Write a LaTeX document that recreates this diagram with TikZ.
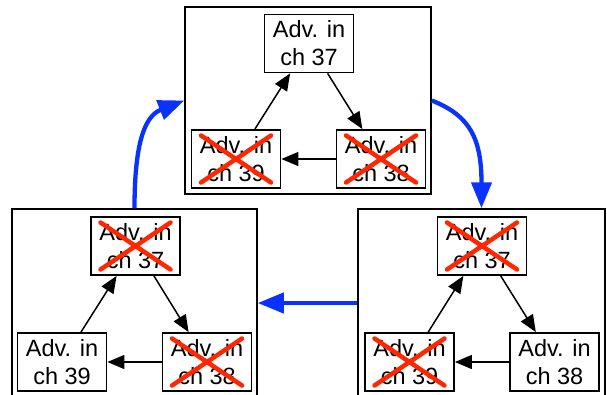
\documentclass[tikz,border=0pt]{standalone}
\usepackage{fontspec}
\setmainfont{Liberation Sans}
\usetikzlibrary{arrows.meta}
\definecolor{xred}{RGB}{255,38,0}
\definecolor{xblue}{RGB}{10,50,255}
\tikzset{
  panel/.style={draw=black,line width=1.5pt,minimum width=#1,inner sep=0pt},
  adv/.style={draw=black,line width=1.8pt,fill=white,minimum width=89pt,minimum height=58pt,
    inner sep=0pt,align=center,font=\fontsize{23.5}{28}\selectfont},
  link/.style={line width=1.5pt,-{Triangle[length=17pt,width=14pt]}},
  move/.style={xblue,line width=4.3pt,-{Triangle[length=26pt,width=20pt]}},
  strike/.style={xred,line width=4.5pt,line cap=round}
}
\newcommand{\crossout}[1]{%
  \draw[strike] ([shift={(-35pt,23.5pt)}]#1.center) -- ([shift={(35pt,-23.5pt)}]#1.center);
  \draw[strike] ([shift={(-35pt,-23.5pt)}]#1.center) -- ([shift={(35pt,23.5pt)}]#1.center);}
\begin{document}
\begin{tikzpicture}[x=1pt,y=1pt]
\useasboundingbox (0,0) rectangle (607,-394);

% three panels
\node[panel=246pt,minimum height=187pt] (P1) at (308,-100.5) {};
\node[panel=245pt,minimum height=188pt] (P2) at (134.5,-303) {};
\node[panel=247pt,minimum height=188pt] (P3) at (481.5,-303) {};

% top panel
\node[adv] (T37) at (309,-43.5) {Adv. in\\ch 37};
\node[adv] (T39) at (236,-159) {Adv. in\\ch 39};
\node[adv] (T38) at (381,-159) {Adv. in\\ch 38};
\draw[link] (T37) -- (T38);
\draw[link] (T38) -- (T39);
\draw[link] (T39) -- (T37);
\crossout{T39}\crossout{T38}

% left panel
\node[adv] (L37) at (135.5,-246) {Adv. in\\ch 37};
\node[adv] (L39) at (62,-362) {Adv. in\\ch 39};
\node[adv] (L38) at (207,-362) {Adv. in\\ch 38};
\draw[link] (L37) -- (L38);
\draw[link] (L38) -- (L39);
\draw[link] (L39) -- (L37);
\crossout{L37}\crossout{L38}

% right panel
\node[adv] (R37) at (482,-246) {Adv. in\\ch 37};
\node[adv] (R39) at (409.5,-362) {Adv. in\\ch 39};
\node[adv] (R38) at (554.5,-362) {Adv. in\\ch 38};
\draw[link] (R37) -- (R38);
\draw[link] (R38) -- (R39);
\draw[link] (R39) -- (R37);
\crossout{R37}\crossout{R39}

% transitions between panels
\draw[move] (P1.east) .. controls +(38,-15) and +(0,70) .. (P3.north);
\draw[move] (P3.west) -- (P2.east);
\draw[move] (P2.north) .. controls +(0,70) and +(-38,-15) .. (P1.west);
\end{tikzpicture}
\end{document}
